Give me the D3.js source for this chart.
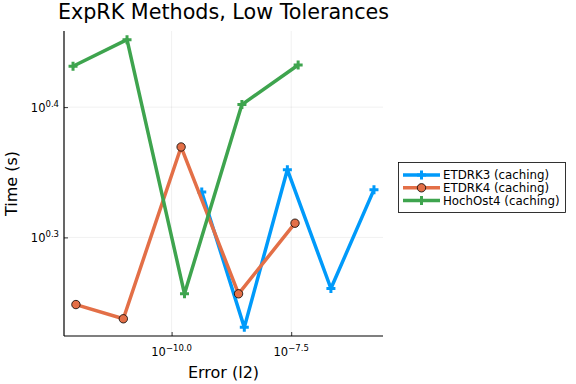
<!DOCTYPE html>
<html>
<head>
  <meta charset="utf-8">
  <title>ExpRK Methods, Low Tolerances</title>
  <script src="https://d3js.org/d3.v7.min.js"></script>
  <style>
    body { margin: 0; background: #fff; }
    text { font-family: "DejaVu Sans", sans-serif; fill: #000; }
  </style>
</head>
<body>
<script>
// error (l2) and time (s) for each method
var etdrk3Err  = [4.27e-10, 3.31e-9, 2.63e-8, 2.14e-7, 1.70e-6];
var etdrk3Time = [2.162, 1.702, 2.249, 1.823, 2.171];
var etdrk4Err  = [1.0e-12, 9.8e-12, 1.58e-10, 2.51e-9, 3.8e-8];
var etdrk4Time = [1.772, 1.728, 2.341, 1.806, 2.046];
var hochErr    = [8.7e-13, 1.17e-11, 1.86e-10, 2.95e-9, 4.42e-8];
var hochTime   = [2.700, 2.830, 1.806, 2.523, 2.706];

var seriesNames = ["ETDRK3 (caching)", "ETDRK4 (caching)", "HochOst4 (caching)"];
var xTickExp = [-10.0, -7.5];
var yTickExp = [0.4, 0.3];

var W = 576, H = 384;
var pLeft = 64, pRight = 383, pTop = 31, pBottom = 336;

var svg = d3.select("body").append("svg")
    .attr("width", W).attr("height", H);

var series = [
  {name: seriesNames[0], x: etdrk3Err, y: etdrk3Time, color: "#009afa", marker: "cross"},
  {name: seriesNames[1], x: etdrk4Err, y: etdrk4Time, color: "#e36f47", marker: "circle"},
  {name: seriesNames[2], x: hochErr, y: hochTime, color: "#3ea44e", marker: "cross"}
];

// 3% padding in log space, like Plots.jl
var allX = [].concat(etdrk3Err, etdrk4Err, hochErr).map(Math.log10);
var allY = [].concat(etdrk3Time, etdrk4Time, hochTime).map(Math.log10);
var xe = d3.extent(allX), ye = d3.extent(allY);
var xp = (xe[1] - xe[0]) * 0.03, yp = (ye[1] - ye[0]) * 0.03;

var x = d3.scaleLog().domain([Math.pow(10, xe[0] - xp), Math.pow(10, xe[1] + xp)]).range([pLeft, pRight]);
var y = d3.scaleLog().domain([Math.pow(10, ye[0] - yp), Math.pow(10, ye[1] + yp)]).range([pBottom, pTop]);

// grid
svg.selectAll(".gx").data(xTickExp).enter().append("line")
    .attr("x1", d => x(Math.pow(10, d))).attr("x2", d => x(Math.pow(10, d)))
    .attr("y1", pTop).attr("y2", pBottom)
    .attr("stroke", "#000").attr("stroke-opacity", 0.1).attr("stroke-width", 0.6);
svg.selectAll(".gy").data(yTickExp).enter().append("line")
    .attr("y1", d => y(Math.pow(10, d))).attr("y2", d => y(Math.pow(10, d)))
    .attr("x1", pLeft).attr("x2", pRight)
    .attr("stroke", "#000").attr("stroke-opacity", 0.1).attr("stroke-width", 0.6);

// axes
var xAxis = d3.axisBottom(x).tickValues(xTickExp.map(d => Math.pow(10, d))).tickSize(-4).tickFormat("");
var yAxis = d3.axisLeft(y).tickValues(yTickExp.map(d => Math.pow(10, d))).tickSize(-4).tickFormat("");
var gx = svg.append("g").attr("transform", "translate(0," + pBottom + ")").call(xAxis);
var gy = svg.append("g").attr("transform", "translate(" + pLeft + ",0)").call(yAxis);
gx.select(".domain").attr("d", "M" + pLeft + ",0H" + pRight);
gy.select(".domain").attr("d", "M0," + pTop + "V" + pBottom);
[gx, gy].forEach(function(g) {
  g.select(".domain").attr("stroke", "#000").attr("stroke-width", 1.2);
  g.selectAll(".tick line").attr("stroke", "#000").attr("stroke-width", 0.8);
});

// tick labels 10^e
function fmtExp(e, isX) {
  var s = isX ? e.toFixed(1) : String(e);
  return s.replace("-", "\u2212");
}
xTickExp.forEach(function(e) {
  var t = svg.append("text").attr("x", x(Math.pow(10, e))).attr("y", 356)
      .attr("text-anchor", "middle").style("font-size", "11.5px");
  t.append("tspan").text("10");
  t.append("tspan").attr("dy", -5).style("font-size", "8.5px").text(fmtExp(e, true));
});
yTickExp.forEach(function(e) {
  var t = svg.append("text").attr("x", 59).attr("y", y(Math.pow(10, e)) + 5)
      .attr("text-anchor", "end").style("font-size", "11.5px");
  t.append("tspan").text("10");
  t.append("tspan").attr("dy", -5).style("font-size", "8.5px").text(fmtExp(e, false));
});

// lines and markers
var line = d3.line().x(d => x(d[0])).y(d => y(d[1]));
function crossPath(cx, cy, s) {
  return "M" + (cx - s) + "," + cy + "H" + (cx + s) + "M" + cx + "," + (cy - s) + "V" + (cy + s);
}
series.forEach(function(s) {
  var pts = s.x.map((v, i) => [v, s.y[i]]);
  svg.append("path").datum(pts).attr("d", line)
      .attr("fill", "none").attr("stroke", s.color).attr("stroke-width", 3.5)
      .attr("stroke-linejoin", "round");
  pts.forEach(function(p) {
    var cx = x(p[0]), cy = y(p[1]);
    if (s.marker === "circle") {
      svg.append("circle").attr("cx", cx).attr("cy", cy).attr("r", 4.2)
          .attr("fill", s.color).attr("stroke", "#000").attr("stroke-width", 0.8);
    } else {
      svg.append("path").attr("d", crossPath(cx, cy, 4.5))
          .attr("stroke", s.color).attr("stroke-width", 3);
    }
  });
});

// title and axis labels
svg.append("text").attr("x", (pLeft + pRight) / 2).attr("y", 19)
    .attr("text-anchor", "middle").style("font-size", "20.7px").text("ExpRK Methods, Low Tolerances");
svg.append("text").attr("x", (pLeft + pRight) / 2).attr("y", 378)
    .attr("text-anchor", "middle").style("font-size", "16px").text("Error (l2)");
svg.append("text").attr("transform", "translate(17," + ((pTop + pBottom) / 2) + ") rotate(-90)")
    .attr("text-anchor", "middle").style("font-size", "16px").text("Time (s)");

// legend
var lg = svg.append("g");
lg.append("rect").attr("x", 398.5).attr("y", 162.5).attr("width", 167).attr("height", 50)
    .attr("fill", "#fff").attr("stroke", "#000").attr("stroke-width", 0.8);
series.forEach(function(s, i) {
  var ly = 175 + i * 12.8;
  lg.append("line").attr("x1", 403).attr("x2", 440).attr("y1", ly).attr("y2", ly)
      .attr("stroke", s.color).attr("stroke-width", 3.5);
  if (s.marker === "circle") {
    lg.append("circle").attr("cx", 421.5).attr("cy", ly).attr("r", 4.2)
        .attr("fill", s.color).attr("stroke", "#000").attr("stroke-width", 0.8);
  } else {
    lg.append("path").attr("d", crossPath(421.5, ly, 4.5)).attr("stroke", s.color).attr("stroke-width", 3);
  }
  lg.append("text").attr("x", 443).attr("y", ly + 4).style("font-size", "11.8px").text(s.name);
});
</script>
</body>
</html>
